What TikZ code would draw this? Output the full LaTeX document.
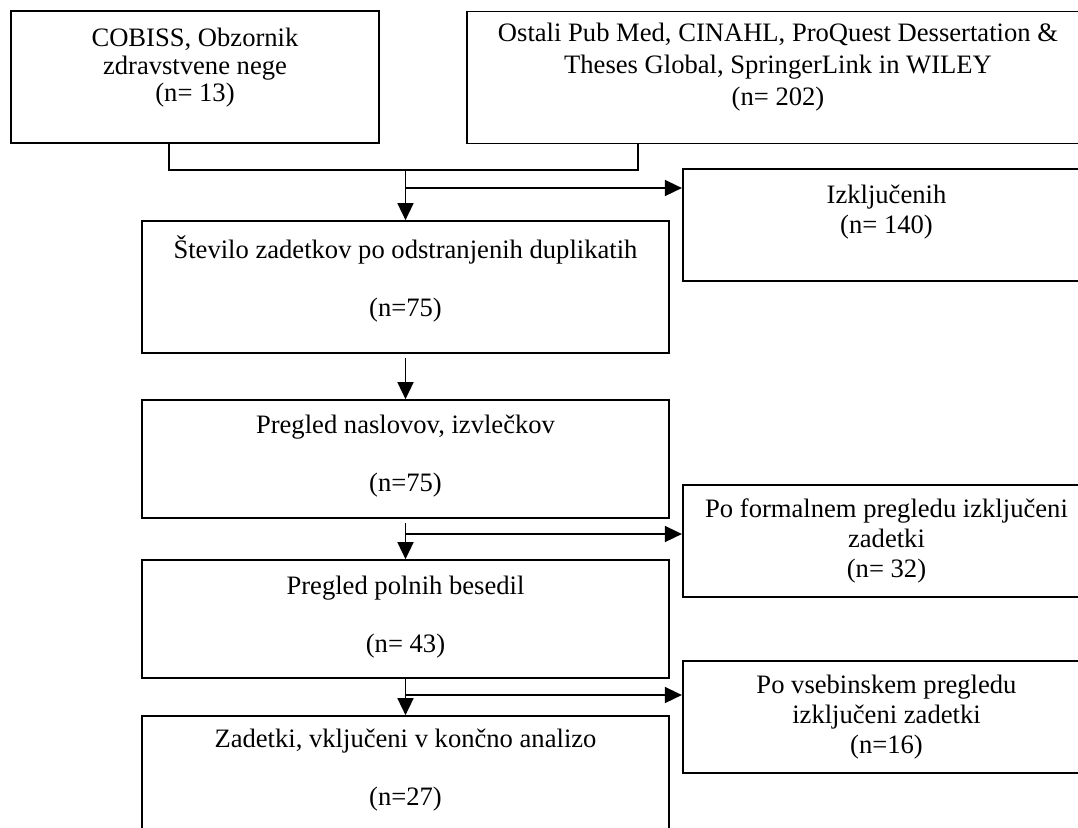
\documentclass[tikz,border=0pt]{standalone}
\usepackage{fontspec}
\setmainfont{Liberation Serif}
\usetikzlibrary{shapes,arrows.meta,calc}
\tikzstyle{line} = [draw, line width=0.8pt, -{Triangle[length=8.5pt,width=8pt]}]
\tikzstyle{block} = [draw, line width=0.85pt, rectangle, align=center, inner sep=0pt, font=\fontsize{13.3}{13.8}\selectfont]
\tikzstyle{mainbox} = [block, minimum width=263.5pt, minimum height=59pt]
\tikzstyle{sidebox} = [block, line width=1.1pt, minimum width=203.5pt, minimum height=56pt, font=\fontsize{13.3}{15}\selectfont]
\tikzstyle{sourcebox} = [block, minimum height=66pt]

\begin{document}
\begin{tikzpicture}[x=0.5pt, y=-0.5pt, node distance=80pt]
        \clip (0,0) rectangle (1078,827);
        % sources
        \node[sourcebox, minimum width=184pt, text depth=12pt] (cobiss) at (195,77) {COBISS, Obzornik\\zdravstvene nege\\(n= 13)};
        \node[sourcebox, minimum width=311pt, text depth=13pt, font=\fontsize{13.3}{16}\selectfont] (ostali) at (778,77.5) {Ostali Pub Med, CINAHL, ProQuest Dessertation \&\\Theses Global, SpringerLink in WILEY\\(n= 202)};
        % main column
        \node[mainbox, minimum height=66pt, text depth=11pt] (dupl) at (405.5,287) {Število zadetkov po odstranjenih duplikatih\\[15.2pt](n=75)};
        \node[mainbox, below of=dupl, node distance=86pt, text depth=5.5pt] (naslovi) {Pregled naslovov, izvlečkov\\[15.2pt](n=75)};
        \node[mainbox, below of=naslovi, text depth=5pt] (besedila) {Pregled polnih besedil\\[15.2pt](n= 43)};
        \node[mainbox, below of=besedila, node distance=78pt, text depth=8pt] (koncno) {Zadetki, vključeni v končno analizo\\[15.2pt](n=27)};
        % excluded
        \node[sidebox, text depth=16pt] (izkl) at (886.5,225) {Izključenih\\(n= 140)};
        \node[sidebox] (formal) at (886.5,541) {Po formalnem pregledu izključeni\\zadetki\\(n= 32)};
        \node[sidebox] (vsebina) at (886.5,717) {Po vsebinskem pregledu\\izključeni zadetki\\(n=16)};
        \coordinate (join) at (405.5,170);
        \coordinate (split1) at (405.5,188);
        \coordinate (split2) at (405.5,534);
        \coordinate (split3) at (405.5,695);
        \draw[line width=0.8pt] ([xshift=-13pt]cobiss.south) |- (join) -| ([xshift=-70pt]ostali.south);
        \path[line] (join) -- (dupl);
        \path[line] (split1) -- (split1 -| izkl.west);
        \path[line, shorten <=2pt] (dupl) -- (naslovi);
        \path[line, shorten <=2pt] (naslovi) -- (besedila);
        \path[line] (split2) -- (split2 -| formal.west);
        \path[line] (besedila) -- (koncno);
        \path[line] (split3) -- (split3 -| vsebina.west);
    \end{tikzpicture}
\end{document}
